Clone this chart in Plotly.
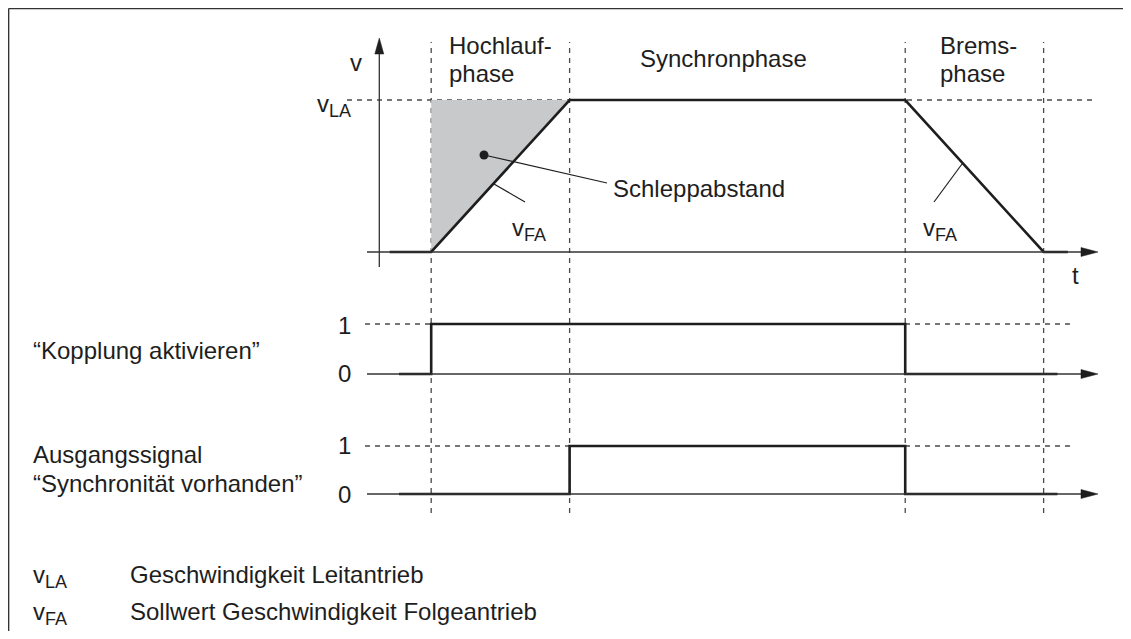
import plotly.graph_objects as go

# ---------------- data ----------------
phase_bounds_t = [1.5, 5.5, 15.2, 19.2]          # Hochlauf start, Synchron start, Brems start, stop
vel_t = [0.3, 1.5, 5.5, 15.2, 19.2, 19.9]         # vFA curve
vel_v = [0, 0, 1, 1, 0, 0]
lag_t = [1.5, 5.5, 1.5]                           # Schleppabstand area (between vLA and vFA)
lag_v = [1, 1, 0]
kopp_t = [0.57, 1.5, 1.5, 15.2, 15.2, 19.6]       # "Kopplung aktivieren"
kopp_s = [0, 0, 1, 1, 0, 0]
sync_t = [0.57, 5.5, 5.5, 15.2, 15.2, 19.6]       # "Synchronität vorhanden"
sync_s = [0, 0, 1, 1, 0, 0]
v_la = 1
phase_labels = [["Hochlauf-", "phase"], ["Synchronphase"], ["Brems-", "phase"]]
signal_labels = ["\u201cKopplung aktivieren\u201d", "Ausgangssignal", "\u201cSynchronit\u00e4t vorhanden\u201d"]
SUB = "<sub><span style='font-size:18px'>{}</span></sub>"
legend_syms = ["v" + SUB.format("LA"), "v" + SUB.format("FA")]
legend_texts = ["Geschwindigkeit Leitantrieb", "Sollwert Geschwindigkeit Folgeantrieb"]

# ---------------- layout constants ----------------
PAGE_W, PAGE_H = 1131, 639
OFF = 8                      # browser body margin
W, H = PAGE_W - 2 * OFF, PAGE_H - 2 * OFF
T0_PX, T_SCALE = 379.3, 34.6
V0_PY, V1_PY = 252, 100
K0_PY, K1_PY = 374, 324
S0_PY, S1_PY = 494, 446
INK = "#1e1e1e"
THIN = "#333333"
DASH = "#4a4a4a"
FONT = "Liberation Sans, Arial, sans-serif"
FS = 24


def PX(x):
    return (x - OFF) / W


def PY(y):
    return 1 - (y - OFF) / H


def yrange(p0, p1):
    unit = p0 - p1
    return [(p0 - OFF - H) / unit, (p0 - OFF) / unit]


fig = go.Figure()

# grey lag area
fig.add_trace(go.Scatter(x=lag_t, y=lag_v, fill="toself", fillcolor="#c8c9cb",
                         line=dict(width=0), mode="lines", yaxis="y", hoverinfo="skip"))
# velocity
fig.add_trace(go.Scatter(x=vel_t, y=vel_v, mode="lines", line=dict(color=INK, width=2.6),
                         yaxis="y", hoverinfo="skip"))
# signals
fig.add_trace(go.Scatter(x=kopp_t, y=kopp_s, mode="lines", line=dict(color=INK, width=2.6),
                         yaxis="y2", hoverinfo="skip"))
fig.add_trace(go.Scatter(x=sync_t, y=sync_s, mode="lines", line=dict(color=INK, width=2.6),
                         yaxis="y3", hoverinfo="skip"))

shapes = []
dash = "5px,5px"
# vertical phase boundaries
for t in phase_bounds_t:
    shapes.append(dict(type="line", xref="x", yref="paper", x0=t, x1=t, y0=PY(513), y1=PY(42),
                       line=dict(color=DASH, width=1.3, dash=dash), layer="below"))
# level lines
shapes.append(dict(type="line", xref="paper", yref="y", x0=PX(347), x1=PX(1093), y0=v_la, y1=v_la,
                   line=dict(color=DASH, width=1.3, dash=dash), layer="below"))
shapes.append(dict(type="line", xref="paper", yref="y2", x0=PX(365), x1=PX(1073), y0=1, y1=1,
                   line=dict(color=DASH, width=1.3, dash=dash), layer="below"))
shapes.append(dict(type="line", xref="paper", yref="y3", x0=PX(365), x1=PX(1073), y0=1, y1=1,
                   line=dict(color=DASH, width=1.3, dash=dash), layer="below"))

# axes lines with arrows
for yref, p0 in (("y", V0_PY), ("y2", K0_PY), ("y3", S0_PY)):
    shapes.append(dict(type="line", xref="paper", yref=yref, x0=PX(367), x1=PX(1086), y0=0, y1=0,
                       line=dict(color=THIN, width=1.3)))
    shapes.append(dict(type="path", xref="paper", yref="paper",
                       path=f"M {PX(1098)} {PY(p0)} L {PX(1081)} {PY(p0 - 4.5)} L {PX(1081)} {PY(p0 + 4.5)} Z",
                       fillcolor=INK, line=dict(color=INK, width=0.5)))
# v axis
shapes.append(dict(type="line", xref="paper", yref="paper", x0=PX(T0_PX), x1=PX(T0_PX), y0=PY(267), y1=PY(50),
                   line=dict(color=THIN, width=1.3)))
shapes.append(dict(type="path", xref="paper", yref="paper",
                   path=f"M {PX(T0_PX)} {PY(38)} L {PX(T0_PX - 4.5)} {PY(54)} L {PX(T0_PX + 4.5)} {PY(54)} Z",
                   fillcolor=INK, line=dict(color=INK, width=0.5)))

# leader lines
for (x0, y0, x1, y1) in [(484, 155, 607, 183), (494, 184, 525, 202), (962, 164, 934, 202)]:
    shapes.append(dict(type="line", xref="paper", yref="paper", x0=PX(x0), y0=PY(y0), x1=PX(x1), y1=PY(y1),
                       line=dict(color=INK, width=1.2)))
# dot
shapes.append(dict(type="circle", xref="paper", yref="paper", x0=PX(479.5), x1=PX(488.5), y0=PY(150.5), y1=PY(159.5),
                   fillcolor=INK, line=dict(color=INK, width=0)))
# frame (top and left)
shapes.append(dict(type="line", xref="paper", yref="paper", x0=PX(8.6), x1=PX(PAGE_W + 20), y0=PY(8.6), y1=PY(8.6),
                   line=dict(color=THIN, width=1.5)))
shapes.append(dict(type="line", xref="paper", yref="paper", x0=PX(8.6), x1=PX(8.6), y0=PY(8.6), y1=PY(PAGE_H + 20),
                   line=dict(color=THIN, width=1.5)))

ann = []


def txt(text, x, y, xa="left", ya="middle", size=FS):
    ann.append(dict(text=text, x=PX(x), y=PY(y), xref="paper", yref="paper", xanchor=xa, yanchor=ya,
                    showarrow=False, font=dict(family=FONT, size=size, color=INK)))


# phase labels
txt(phase_labels[0][0], 447, 45)
txt(phase_labels[0][1], 447, 73)
txt(phase_labels[1][0], 638, 59)
txt(phase_labels[2][0], 938, 45)
txt(phase_labels[2][1], 938, 73)
# axis labels
txt("v", 364, 62, xa="right")
txt(legend_syms[0], 353, 106, xa="right")
txt("t", 1075, 275, xa="center")
txt("Schleppabstand", 611, 189)
txt(legend_syms[1], 510, 229)
txt(legend_syms[1], 921, 229)
# signal values
for y in (325, 445):
    txt("1", 344, y, xa="center")
for y in (373, 494):
    txt("0", 344, y, xa="center")
txt(signal_labels[0], 31, 350)
txt(signal_labels[1], 31, 454)
txt(signal_labels[2], 31, 483)
# legend
txt(legend_syms[0], 31, 576)
txt(legend_texts[0], 128, 574)
txt(legend_syms[1], 31, 613)
txt(legend_texts[1], 128, 611)

fig.update_layout(
    width=W, height=H, margin=dict(l=0, r=0, t=0, b=0),
    paper_bgcolor="white", plot_bgcolor="white", showlegend=False, hovermode=False,
    xaxis=dict(range=[-(T0_PX - OFF) / T_SCALE, (W + OFF - T0_PX) / T_SCALE], visible=False, fixedrange=True),
    yaxis=dict(range=yrange(V0_PY, V1_PY), visible=False, domain=[0, 1]),
    yaxis2=dict(range=yrange(K0_PY, K1_PY), visible=False, overlaying="y"),
    yaxis3=dict(range=yrange(S0_PY, S1_PY), visible=False, overlaying="y"),
    shapes=shapes, annotations=ann,
)

fig.write_html("out.html", config={"displayModeBar": False})
